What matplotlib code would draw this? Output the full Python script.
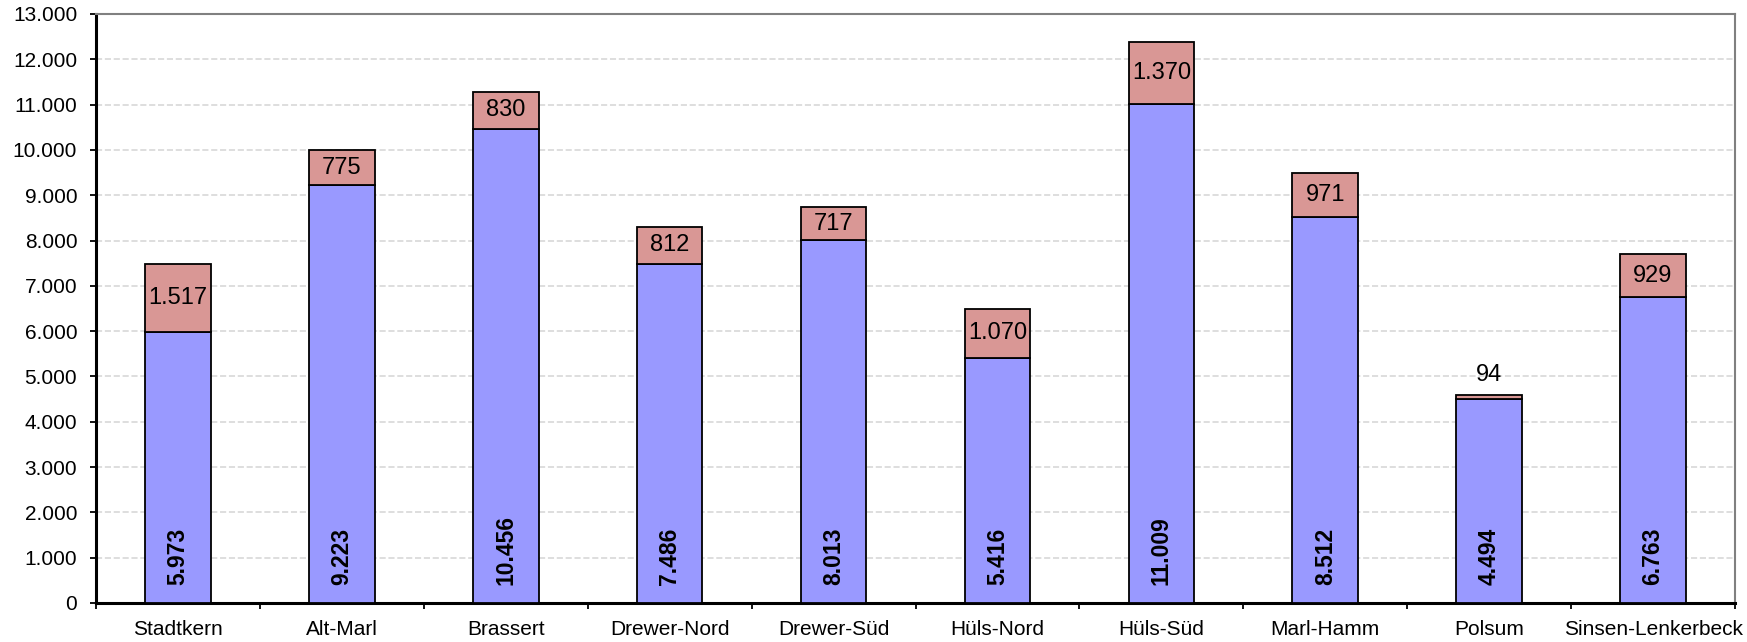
import numpy as np
import matplotlib.pyplot as plt
from matplotlib.ticker import FuncFormatter, FixedLocator

plt.rcParams['font.family'] = ['Liberation Sans', 'DejaVu Sans']

# data
districts = ['Stadtkern', 'Alt-Marl', 'Brassert', 'Drewer-Nord', 'Drewer-Süd',
             'Hüls-Nord', 'Hüls-Süd', 'Marl-Hamm', 'Polsum', 'Sinsen-Lenkerbeck']
base_values = [5973, 9223, 10456, 7486, 8013, 5416, 11009, 8512, 4494, 6763]
top_values = [1517, 775, 830, 812, 717, 1070, 1370, 971, 94, 929]


def de_fmt(v, pos=None):
    return f'{int(v):,}'.replace(',', '.')


fig = plt.figure(figsize=(17.47, 6.42), dpi=100)
ax = fig.add_axes([96 / 1747, 39 / 642, (1735 - 96) / 1747, (603 - 14) / 642])

x = np.arange(len(districts))
w = 0.4
ax.bar(x, base_values, width=w, color='#9999ff', edgecolor='black', linewidth=1.3, zorder=3)
ax.bar(x, top_values, width=w, bottom=base_values, color='#d99795',
       edgecolor='black', linewidth=1.3, zorder=3)

# labels
for i in range(len(districts)):
    ax.text(x[i], 400, de_fmt(base_values[i]), rotation=90, ha='center', va='bottom',
            fontsize=16.5, fontweight='bold', zorder=4)
    if top_values[i] < 300:
        ax.text(x[i], base_values[i] + top_values[i] + 200, de_fmt(top_values[i]),
                ha='center', va='bottom', fontsize=17, zorder=4)
    else:
        ax.text(x[i], base_values[i] + top_values[i] / 2, de_fmt(top_values[i]),
                ha='center', va='center', fontsize=17, zorder=4)

ax.set_xlim(-0.5, len(districts) - 0.5)
ax.set_ylim(0, 13000)
ax.set_yticks(np.arange(0, 13001, 1000))
ax.yaxis.set_major_formatter(FuncFormatter(de_fmt))
ax.set_xticks(x)
ax.set_xticklabels(districts)
ax.xaxis.set_minor_locator(FixedLocator(np.arange(-0.5, len(districts), 1)))
ax.tick_params(axis='x', which='major', length=0, labelsize=15, pad=12)
ax.tick_params(axis='x', which='minor', length=4.5, width=1.3, direction='out')
ax.tick_params(axis='y', length=4.5, width=1.3, labelsize=15, pad=9)

ax.grid(axis='y', color='#d4d4d4', linestyle=(0, (4, 1.8)), linewidth=1.1, zorder=0)
ax.spines['left'].set_linewidth(2.2)
ax.spines['bottom'].set_linewidth(2.2)
ax.spines['top'].set_color('#808080')
ax.spines['right'].set_color('#808080')
ax.spines['top'].set_linewidth(1.5)
ax.spines['right'].set_linewidth(1.5)

plt.savefig('out.png', dpi=100)
